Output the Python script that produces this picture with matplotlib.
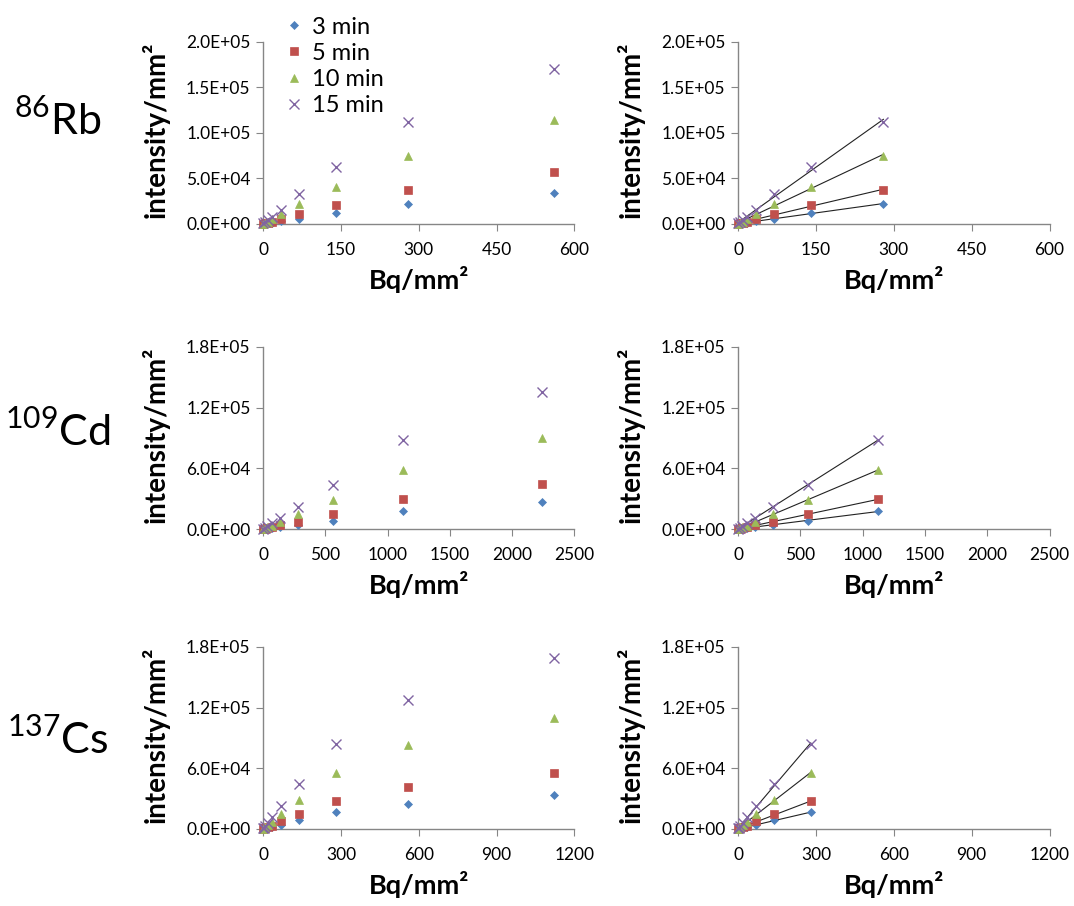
import numpy as np
import matplotlib
matplotlib.use("Agg")
import matplotlib.pyplot as plt
from matplotlib.ticker import FuncFormatter, MultipleLocator

plt.rcParams['font.family'] = ['Lato', 'DejaVu Sans']
plt.rcParams['mathtext.fontset'] = 'custom'
plt.rcParams['mathtext.rm'] = 'Lato'

series_names = ["3 min", "5 min", "10 min", "15 min"]
colors = ["#4F81BD", "#C0504D", "#9BBB59", "#8064A2"]
markers = ["D", "s", "^", "x"]
msizes = [4.5, 6, 6, 7]

# Rb-86
x_rb = [0, 4.375, 8.75, 17.5, 35, 70, 140, 280, 560]
rb_3 = [300, 400, 700, 1500, 3000, 6000, 12200, 22000, 33800]
rb_5 = [400, 700, 1300, 2700, 5200, 11000, 20500, 37400, 56900]
rb_10 = [500, 1300, 2600, 5200, 10600, 22000, 41100, 74900, 113800]
rb_15 = [700, 2000, 4000, 8000, 15400, 33000, 62400, 112300, 170600]

# Cd-109
x_cd = [0, 17.5, 35, 70, 140, 280, 560, 1120, 2240]
cd_3 = [200, 300, 500, 1000, 2000, 3800, 8300, 17500, 27100]
cd_5 = [300, 500, 900, 1800, 3600, 6900, 14500, 29400, 44900]
cd_10 = [400, 800, 1600, 3200, 6600, 14500, 28400, 58500, 90500]
cd_15 = [500, 1400, 2800, 5600, 10600, 22100, 43600, 87800, 135400]

# Cs-137
x_cs = [0, 4.375, 8.75, 17.5, 35, 70, 140, 280, 560, 1120]
cs_3 = [200, 300, 500, 900, 1700, 3900, 8900, 16500, 24700, 33200]
cs_5 = [300, 500, 900, 1700, 3300, 7600, 14500, 27300, 41500, 55300]
cs_10 = [400, 900, 1800, 3500, 6900, 14800, 28600, 55600, 82600, 110200]
cs_15 = [600, 1400, 2800, 5600, 11500, 23000, 44100, 84200, 127300, 169100]

rows = [
    (r"$^{86}$Rb", x_rb, [rb_3, rb_5, rb_10, rb_15], 280, (0, 600, 150), (0, 2e5, 5e4)),
    (r"$^{109}$Cd", x_cd, [cd_3, cd_5, cd_10, cd_15], 1120, (0, 2500, 500), (0, 1.8e5, 6e4)),
    (r"$^{137}$Cs", x_cs, [cs_3, cs_5, cs_10, cs_15], 280, (0, 1200, 300), (0, 1.8e5, 6e4)),
]

fig = plt.figure(figsize=(10.74, 9.06), dpi=100)

bottoms = [0.7528, 0.4161, 0.0850]
lefts = [0.2449, 0.6872]
w, h = 0.2900, 0.2009
label_y = [120, 432, 740]

sci = FuncFormatter(lambda v, p: "{:.1E}".format(v))

for r, (name, xs, ys, fit_max, xl, yl) in enumerate(rows):
    fig.text(58 / 1074, 1 - label_y[r] / 906, name, fontsize=31,
             ha="center", va="center")
    for c in range(2):
        ax = fig.add_axes([lefts[c], bottoms[r], w, h])
        xs_arr = np.array(xs)
        for k in range(4):
            ya = np.array(ys[k])
            if c == 0:
                xp, yp = xs_arr, ya
            else:
                m = xs_arr <= fit_max
                xp, yp = xs_arr[m], ya[m]
            ax.plot(xp, yp, linestyle="none", marker=markers[k],
                    color=colors[k], markersize=msizes[k],
                    markeredgewidth=1.0 if markers[k] == "x" else 0.5,
                    label=series_names[k], clip_on=False, zorder=3)
            if c == 1:
                # linear trendline through the points shown
                slope, icpt = np.polyfit(xp, yp, 1)
                xx = np.array([xp.min(), xp.max()])
                ax.plot(xx, slope * xx + icpt, color="#222222", lw=0.8, zorder=2)
        ax.set_xlim(xl[0], xl[1])
        ax.set_ylim(yl[0], yl[1])
        ax.xaxis.set_major_locator(MultipleLocator(xl[2]))
        ax.yaxis.set_major_locator(MultipleLocator(yl[2]))
        ax.yaxis.set_major_formatter(sci)
        for s in ["top", "right"]:
            ax.spines[s].set_visible(False)
        for s in ["left", "bottom"]:
            ax.spines[s].set_color("#868686")
            ax.spines[s].set_linewidth(1.0)
        ax.tick_params(axis="both", direction="out", length=5, color="#868686",
                       labelsize=12.5, pad=4)
        ax.tick_params(axis="x", pad=8)
        ax.set_xlabel("Bq/mm²", fontsize=19.5, fontweight="bold", labelpad=6)
        ax.set_ylabel("intensity/mm²", fontsize=20, fontweight="bold", labelpad=1)
        ax.yaxis.set_label_coords(-0.3, 0.52)
        if r == 0 and c == 0:
            ax.legend(loc="upper left", bbox_to_anchor=(264 / 1074, 1 - 0 / 906),
                      bbox_transform=fig.transFigure, frameon=False,
                      fontsize=17, handletextpad=0.25, labelspacing=0.22,
                      handlelength=1.1, borderpad=0.2)

fig.savefig("out.png", dpi=100)
